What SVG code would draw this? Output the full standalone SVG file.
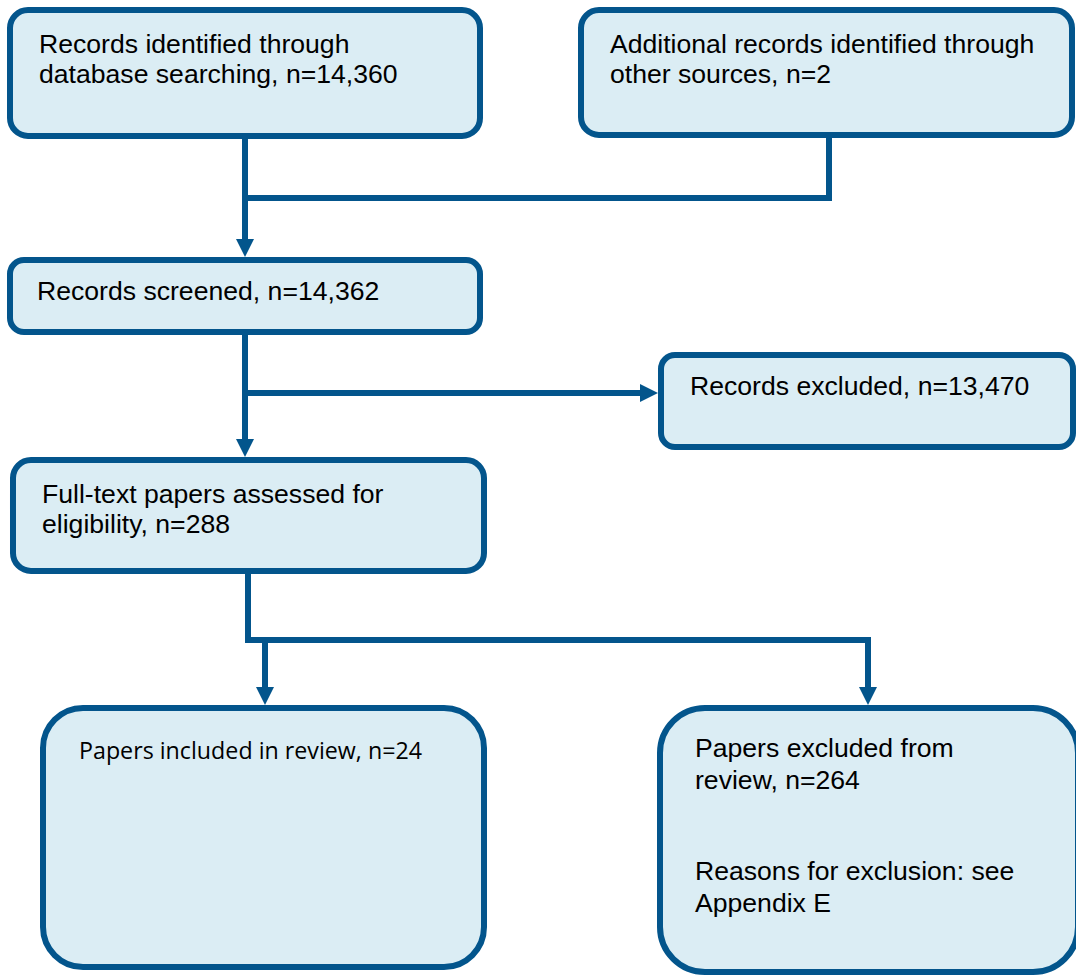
<svg xmlns="http://www.w3.org/2000/svg" width="1076" height="975" viewBox="0 0 1076 975">
<style>
.box{fill:#DBEDF4;stroke:#03558C;stroke-width:6}
.t{font-family:"Liberation Sans",Arial,sans-serif;font-size:26.6px;fill:#000}
.t2{font-family:"Open Sans","Noto Sans",sans-serif;font-size:23px;fill:#000}
.c{fill:none;stroke:#03558C;stroke-width:6;stroke-linejoin:miter}
</style>
<defs>
<marker id="arr" markerUnits="userSpaceOnUse" markerWidth="18" markerHeight="18" refX="8" refY="9" orient="auto">
<path d="M0,0 L18,9 L0,18 z" fill="#03558C"/>
</marker>
</defs>
<rect width="1076" height="975" fill="#fff"/>
<g id="connectors">
<path class="c" d="M245 139 V247" marker-end="url(#arr)"/>
<path class="c" d="M829 138 V198 H245"/>
<path class="c" d="M245 335 V447" marker-end="url(#arr)"/>
<path class="c" d="M245 393 H648" marker-end="url(#arr)"/>
<path class="c" d="M248 574 V640 H868 V695" marker-end="url(#arr)"/>
<path class="c" d="M265 640 V695" marker-end="url(#arr)"/>
</g>
<g id="n1">
<rect class="box" x="10" y="10" width="470" height="126" rx="18"/>
<text class="t" x="39" y="53">Records identified through</text>
<text class="t" x="39" y="83">database searching, n=14,360</text>
</g>
<g id="n2">
<rect class="box" x="581" y="10" width="491" height="125" rx="18"/>
<text class="t" x="610" y="53">Additional records identified through</text>
<text class="t" x="610" y="83">other sources, n=2</text>
</g>
<g id="n3">
<rect class="box" x="10" y="260" width="470" height="72" rx="14"/>
<text class="t" x="37" y="300">Records screened, n=14,362</text>
</g>
<g id="n4">
<rect class="box" x="661" y="355" width="412" height="92" rx="14"/>
<text class="t" x="690" y="395">Records excluded, n=13,470</text>
</g>
<g id="n5">
<rect class="box" x="13" y="460" width="471" height="111" rx="18"/>
<text class="t" x="42" y="503">Full-text papers assessed for</text>
<text class="t" x="42" y="533">eligibility, n=288</text>
</g>
<g id="n6">
<rect class="box" x="43" y="708" width="441" height="259" rx="40"/>
<text class="t2" x="79" y="759" textLength="343" lengthAdjust="spacingAndGlyphs">Papers included in review, n=24</text>
</g>
<g id="n7">
<rect class="box" x="660" y="708" width="418" height="264" rx="45"/>
<text class="t" x="695" y="757">Papers excluded from</text>
<text class="t" x="695" y="789">review, n=264</text>
<text class="t" x="695" y="880">Reasons for exclusion: see</text>
<text class="t" x="695" y="912">Appendix E</text>
</g>
</svg>
